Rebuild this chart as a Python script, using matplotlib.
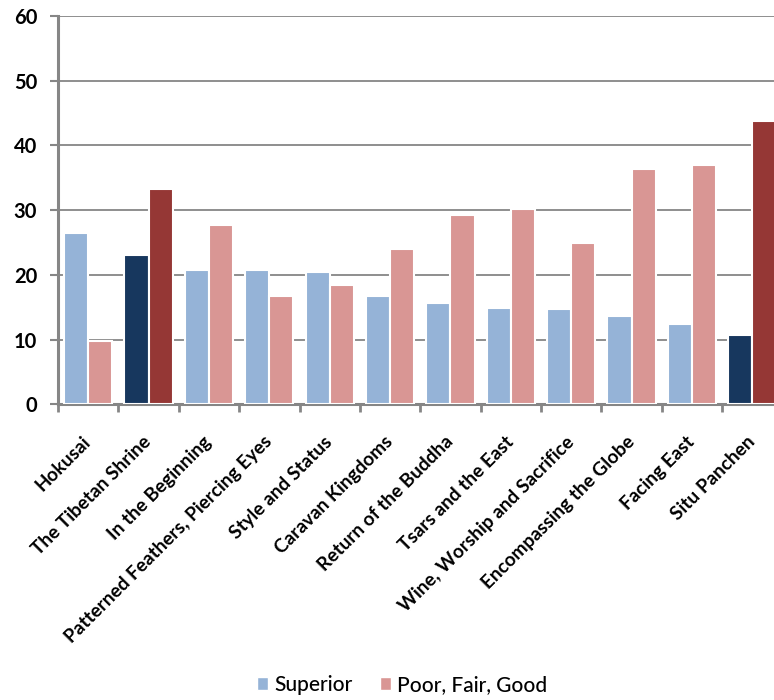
import numpy as np
import matplotlib
matplotlib.use("Agg")
import matplotlib.pyplot as plt
from matplotlib.patches import Patch

exhibitions = ["Hokusai", "The Tibetan Shrine", "In the Beginning",
               "Patterned Feathers, Piercing Eyes", "Style and Status",
               "Caravan Kingdoms", "Return of the Buddha", "Tsars and the East",
               "Wine, Worship and Sacrifice", "Encompassing the Globe",
               "Facing East", "Situ Panchen"]
superior = [26.5, 23.0, 20.7, 20.7, 20.5, 16.8, 15.7, 14.9, 14.7, 13.6, 12.4, 10.65]
poor_fair_good = [9.8, 33.2, 27.7, 16.8, 18.4, 24.0, 29.2, 30.1, 24.9, 36.3, 36.9, 43.8]
highlighted = ["The Tibetan Shrine", "Situ Panchen"]

blue, blue_dark = "#95B3D7", "#17375E"
pink, pink_dark = "#D99694", "#953735"
grey = "#868686"

plt.rcParams['font.family'] = ['Lato', 'DejaVu Sans']

fig = plt.figure(figsize=(7.74, 7.0), dpi=100)
ax = fig.add_axes([0.0749, 0.4224, 0.9362, 0.5551])

x = np.arange(len(exhibitions))
c_sup = [blue_dark if e in highlighted else blue for e in exhibitions]
c_pfg = [pink_dark if e in highlighted else pink for e in exhibitions]
w = 0.4
ax.bar(x - w / 2, superior, w, color=c_sup, edgecolor="white", linewidth=1.5, zorder=3)
ax.bar(x + w / 2, poor_fair_good, w, color=c_pfg, edgecolor="white", linewidth=1.5, zorder=3)

ax.set_xlim(-0.5, len(exhibitions) - 0.5)
ax.set_ylim(0, 60)
ax.set_yticks(range(0, 61, 10))
ax.yaxis.grid(True, color=grey, linewidth=1.3, zorder=0)
ax.set_axisbelow(True)

ax.set_xticks(x)
ax.set_xticklabels(exhibitions, rotation=45, ha="right", va="center",
                   rotation_mode="anchor", fontsize=13.7, fontweight="bold")
ax.set_xticks(np.arange(-0.5, len(exhibitions), 1.0), minor=True)
ax.tick_params(axis="x", which="major", length=0, pad=25)
ax.tick_params(axis="x", which="minor", length=6, width=2, color=grey, direction="out")
ax.tick_params(axis="y", length=6, width=1.5, color=grey, pad=9,
               labelsize=14.5)
for lbl in ax.get_yticklabels():
    lbl.set_fontweight("bold")

for side in ["top", "right"]:
    ax.spines[side].set_visible(False)
for side in ["left", "bottom"]:
    ax.spines[side].set_color(grey)
    ax.spines[side].set_linewidth(2.2)

handles = [Patch(facecolor=blue, edgecolor="white", label="Superior"),
           Patch(facecolor=pink, edgecolor="white", label="Poor, Fair, Good")]
fig.legend(handles=handles, loc="center", bbox_to_anchor=(402 / 774, 1 - 685 / 700),
           ncol=2, frameon=False, handlelength=0.55, handleheight=0.55,
           handletextpad=0.3, columnspacing=1.3,
           prop={"size": 15, "weight": "medium"})

fig.savefig("out.png", dpi=100)
